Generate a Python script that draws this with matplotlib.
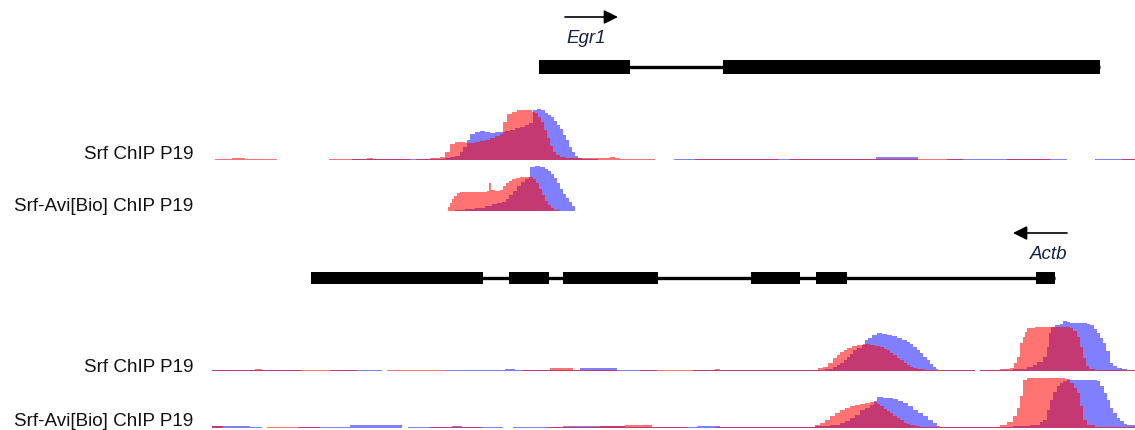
import matplotlib
matplotlib.use("Agg")
import matplotlib.pyplot as plt

# ---------------- data ----------------
track_labels = ["Srf ChIP P19", "Srf-Avi[Bio] ChIP P19", "Srf ChIP P19", "Srf-Avi[Bio] ChIP P19"]

egr1_exon_start = [539, 723]
egr1_exon_end = [630, 1100]
actb_exon_start = [311, 509, 563, 751, 816, 1036]
actb_exon_end = [483, 549, 658, 800, 847, 1055]

# Track 1 (Egr1 locus, Srf ChIP)
t1_red_x = [215, 232, 245, 277, 329, 367, 373, 410, 416, 430, 440, 445, 450, 455, 460, 465, 470, 475, 480, 485,
            490, 495, 500, 503, 507, 512, 517, 522, 527, 532, 535, 538, 541, 544, 547, 550, 553, 556, 560, 565,
            575, 590, 605, 610, 615, 620, 655, 695, 778, 790, 963, 1007, 1050, 1122, 1135]
t1_red_y = [1.5, 2.5, 1.5, 0, 1.5, 2.5, 1.5, 0, 1.5, 2, 3, 8, 16, 18, 18, 17, 17, 18, 19, 20,
            22, 24, 26, 38, 46, 48, 50, 50, 50, 48, 47, 43, 38, 30, 22, 14, 8, 5, 3, 2.5,
            2, 2, 2.5, 3.5, 2, 1.5, 0, 1.5, 0, 1.5, 0, 1.5, 0, 1.5, 1.5]
t1_blue_x = [215, 352, 445, 450, 455, 460, 463, 467, 470, 475, 480, 485, 490, 495, 500, 505, 510, 515, 520, 525,
             529, 533, 537, 541, 545, 548, 551, 554, 557, 560, 563, 566, 569, 572, 575, 578, 582, 598, 674, 876,
             918, 947, 1067, 1095, 1135]
t1_blue_y = [0, 1.5, 2, 3, 4, 8, 13, 20, 26, 28, 29, 28, 27, 28, 28, 29, 30, 32, 33, 35,
             37, 50, 51, 50, 47, 45, 43, 39, 35, 31, 25, 20, 13, 8, 4, 2, 1.5, 0, 1.5, 3.5,
             0, 1.5, 0, 1.5, 1.5]

# Track 2 (Egr1 locus, Srf-Avi[Bio] ChIP)
t2_red_x = [447, 448, 450, 452, 454, 457, 460, 470, 480, 487, 489, 491, 495, 500, 503, 506, 509, 512, 516, 520,
            525, 530, 533, 536, 539, 542, 545, 548, 551, 554, 560]
t2_red_y = [0, 4, 8, 12, 15, 18, 19, 19, 19, 20, 28, 21, 20, 21, 25, 28, 30, 32, 33, 34,
            34, 34, 32, 28, 22, 16, 10, 6, 3, 1.5, 0]
t2_blue_x = [450, 455, 465, 475, 485, 492, 497, 502, 506, 509, 513, 517, 521, 525, 529, 530, 535, 540, 545, 548,
             551, 554, 557, 560, 563, 566, 569, 572, 575]
t2_blue_y = [0, 1, 2, 3, 5, 7, 8, 9, 12, 16, 20, 25, 29, 32, 34, 44, 45, 44, 42, 40,
             37, 33, 28, 22, 17, 13, 9, 5, 0]

# Track 3 (Actb locus, Srf ChIP)
t3_red_x = [212, 255, 262, 357, 387, 446, 522, 550, 573, 617, 640, 715, 720, 812, 818, 823, 828, 833, 837, 840,
            844, 847, 852, 857, 863, 870, 875, 880, 884, 887, 890, 893, 897, 900, 904, 907, 910, 913, 917, 925,
            975, 980, 1000, 1010, 1014, 1017, 1020, 1023, 1025, 1027, 1035, 1045, 1053, 1060, 1065, 1070, 1073,
            1077, 1080, 1083, 1086, 1089, 1095, 1135]
t3_red_y = [1.5, 2.5, 1.5, 0, 1.5, 0, 1.5, 3, 1.5, 0, 1.5, 2.5, 1.5, 1.5, 3, 4, 8, 13, 16, 19,
            21, 23, 25, 26, 27, 26, 25, 24, 22, 21, 18, 16, 13, 11, 8, 6, 4, 3, 2, 1.5,
            0, 1.5, 2, 3, 8, 14, 28, 34, 39, 43, 44, 44, 44, 44, 44, 43, 40,
            34, 24, 13, 5, 2, 1.5, 1.5]
t3_blue_x = [212, 302, 330, 382, 446, 505, 515, 580, 617, 657, 693, 818, 825, 833, 837, 840, 844, 847, 850, 853,
             857, 862, 865, 868, 872, 877, 882, 887, 892, 897, 902, 907, 910, 913, 917, 920, 923, 927, 930, 933,
             936, 938, 975, 980, 1013, 1027, 1033, 1037, 1043, 1047, 1049, 1051, 1055, 1060, 1063, 1067, 1070,
             1087, 1090, 1094, 1097, 1100, 1103, 1106, 1110, 1113, 1117, 1122, 1127, 1135]
t3_blue_y = [1.5, 0, 1.5, 0, 1.5, 2.5, 1.5, 3, 1.5, 0, 1.5, 1.5, 2, 4, 6, 8, 11, 14, 17, 21,
             23, 26, 31, 33, 36, 38, 37, 36, 35, 33, 31, 29, 27, 24, 21, 18, 14, 11, 7, 4,
             2, 1.5, 0, 1.5, 2, 4, 6, 9, 14, 24, 38, 44, 46, 47, 50, 49, 48,
             47, 46, 42, 38, 33, 28, 20, 8, 5, 3, 2, 1.5, 1.5]

# Track 4 (Actb locus, Srf-Avi[Bio] ChIP)
t4_red_x = [212, 223, 267, 320, 430, 482, 547, 600, 625, 652, 687, 715, 805, 815, 820, 825, 830, 835, 840, 845,
            850, 855, 860, 865, 870, 873, 877, 880, 884, 887, 890, 893, 897, 900, 904, 907, 910, 915, 920, 990,
            1000, 1007, 1013, 1017, 1020, 1023, 1027, 1060, 1065, 1070, 1074, 1077, 1080, 1083, 1087, 1095, 1135]
t4_red_y = [2, 0, 1.5, 0, 1.5, 0, 1.5, 2.5, 3.5, 1.5, 0, 1.5, 1.5, 3, 5, 8, 12, 15, 18, 20,
            22, 23, 24, 25, 26, 26, 24, 22, 19, 17, 15, 12, 10, 8, 5, 4, 3, 2, 1.5, 1.5,
            3, 6, 12, 20, 32, 48, 50, 50, 49, 45, 40, 35, 22, 8, 3, 1.5, 1.5]
t4_blue_x = [212, 250, 262, 298, 350, 402, 408, 452, 462, 503, 513, 563, 600, 625, 697, 720, 805, 815, 830, 840,
             845, 850, 855, 860, 865, 870, 874, 877, 880, 883, 893, 898, 903, 908, 913, 918, 923, 928, 933, 937,
             940, 990, 1013, 1030, 1040, 1043, 1047, 1050, 1053, 1057, 1060, 1063, 1067, 1090, 1097, 1100, 1104,
             1107, 1110, 1113, 1117, 1120, 1124, 1127, 1135]
t4_blue_y = [2, 1.5, 0, 1.5, 3, 0, 1.5, 2.5, 1.5, 0, 1.5, 2.5, 2, 1.5, 2.5, 1.5, 1.5, 2, 3, 5,
             7, 10, 13, 18, 20, 23, 27, 31, 31, 30, 29, 27, 25, 22, 18, 15, 12, 8, 5, 2,
             1.5, 1.5, 2, 3, 6, 8, 18, 28, 36, 42, 45, 47, 48, 48, 47, 42, 35,
             28, 20, 15, 10, 7, 4, 3, 2]

tracks = [
    (t1_red_x, t1_red_y, t1_blue_x, t1_blue_y),
    (t2_red_x, t2_red_y, t2_blue_x, t2_blue_y),
    (t3_red_x, t3_red_y, t3_blue_x, t3_blue_y),
    (t4_red_x, t4_red_y, t4_blue_x, t4_blue_y),
]

# ---------------- layout ----------------
W, H = 1135, 430
XMAX = 1135
track_baselines = [160, 211, 371, 428]   # pixel rows of each track baseline
TRACK_H = 55
label_baselines = [159, 211, 372, 426]

FONT = ["Liberation Sans", "DejaVu Sans"]
plt.rcParams["font.family"] = FONT

fig = plt.figure(figsize=(W / 100, H / 100), dpi=100)
fig.patch.set_facecolor("white")

# signal tracks
for (rx, ry, bx, by), yb in zip(tracks, track_baselines):
    ax = fig.add_axes([0, (H - yb) / H, 1, TRACK_H / H])
    ax.set_xlim(0, XMAX)
    ax.set_ylim(0, TRACK_H)
    ax.axis("off")
    ax.fill_between(bx, by, step="post", color=(0, 0, 1), alpha=0.5, lw=0)
    ax.fill_between(rx, ry, step="post", color=(1, 0, 0), alpha=0.55, lw=0)

# annotation layer (gene models, labels)
ann = fig.add_axes([0, 0, 1, 1])
ann.set_xlim(0, XMAX)
ann.set_ylim(H, 0)
ann.axis("off")

# Egr1 gene model
egr1_y, egr1_h = 67, 14
ann.hlines(egr1_y, egr1_exon_start[0], egr1_exon_end[-1], color="black", lw=2.4)
ann.broken_barh([(s, e - s) for s, e in zip(egr1_exon_start, egr1_exon_end)],
                (egr1_y - egr1_h / 2, egr1_h), facecolor="black", edgecolor="none")
ann.annotate("", xy=(618, 17), xytext=(565, 17),
             arrowprops=dict(arrowstyle="-|>", color="black", lw=1.2, mutation_scale=21,
                             shrinkA=0, shrinkB=0))
ann.text(566, 43, "Egr1", fontsize=13.5, style="italic", color="#1a2040", ha="left", va="baseline")

# Actb gene model
actb_y, actb_h = 278, 12
ann.hlines(actb_y, actb_exon_start[0], actb_exon_end[-1], color="black", lw=2.4)
ann.broken_barh([(s, e - s) for s, e in zip(actb_exon_start, actb_exon_end)],
                (actb_y - actb_h / 2, actb_h), facecolor="black", edgecolor="none")
ann.annotate("", xy=(1013, 233), xytext=(1067, 233),
             arrowprops=dict(arrowstyle="-|>", color="black", lw=1.2, mutation_scale=21,
                             shrinkA=0, shrinkB=0))
ann.text(1067, 259, "Actb", fontsize=13.5, style="italic", color="#1a2040", ha="right", va="baseline")

# track labels
for lab, yb in zip(track_labels, label_baselines):
    ann.text(193, yb, lab, fontsize=13.6, color="#111111", ha="right", va="baseline")

fig.savefig("out.png", dpi=100, facecolor="white")
